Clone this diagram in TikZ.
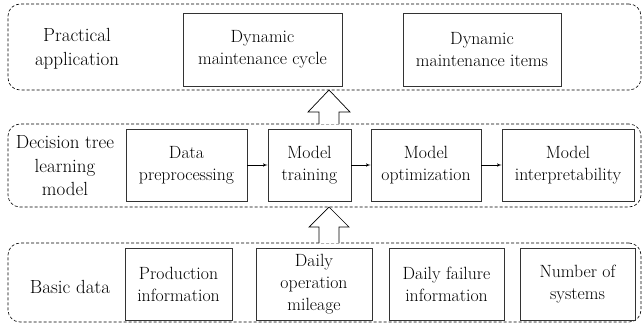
\documentclass[tikz,border=0pt]{standalone}
\usetikzlibrary{arrows, positioning}

\begin{document}
\begin{tikzpicture}[x=1pt, y=-1pt]

\tikzset{group/.style = {draw, densely dashed, rounded corners=12pt, line width=0.6pt, inner sep=0pt}}
\tikzset{box/.style = {draw=black!80, line width=0.8pt, align=center, inner sep=0pt, minimum height=72pt, font=\fontsize{17.7}{22}\selectfont}}
\tikzset{grouptext/.style = {align=center, font=\fontsize{19}{23.5}\selectfont}}
\tikzset{edge/.style = {->, > = latex', line width=0.6pt}}
\tikzset{bigarrow/.style = {draw, line width=0.7pt, fill=white, line join=miter}}

\useasboundingbox (0,0) rectangle (644,324);

% groups
\node[group, minimum width=633pt, minimum height=86pt] (app) at (324.5,47) {};
\node[group, minimum width=633pt, minimum height=83pt] (tree) at (324.5,165.5) {};
\node[group, minimum width=633pt, minimum height=79pt] (data) at (324.5,282.5) {};

% group labels
\node[grouptext] (appl) at (77,49) {Practical\\application};
\node[grouptext] (treel) at (65,166) {Decision tree\\learning\\model};
\node[grouptext] (datal) at (70,287) {Basic data};

% practical application
\node[box, minimum width=159pt, minimum height=73pt] (cycle) at (262.5,49.5) {Dynamic\\maintenance cycle};
\node[box, minimum width=158pt, minimum height=73pt] (items) at (482,49.5) {Dynamic\\maintenance items};

% decision tree learning model
\node[box, minimum width=121pt] (prep) at (186.5,165) {Data\\preprocessing};
\node[box, minimum width=83pt] (train) at (309.5,165) {Model\\training};
\node[box, minimum width=110pt] (optim) at (426,165) {Model\\optimization};
\node[box, minimum width=132pt] (interp) at (568,165) {Model\\interpretability};

% basic data
\node[box, minimum width=107pt] (prod) at (178.5,284) {Production\\information};
\node[box, minimum width=116pt] (mileage) at (314,284) {Daily\\operation\\mileage};
\node[box, minimum width=115pt] (failure) at (446.5,284) {Daily failure\\information};
\node[box, minimum width=115pt] (systems) at (577.5,284) {Number of\\systems};

%edges
\draw[edge] (prep) -- (train);
\draw[edge] (train) -- (optim);
\draw[edge] (optim) -- (interp);

% block arrows
\draw[bigarrow] (319,243) -- (319,227) -- (309,227) -- (329,207) -- (349,227) -- (339,227) -- (339,243);
\draw[bigarrow] (319,124) -- (319,112) -- (308,112) -- (329,90) -- (350,112) -- (339,112) -- (339,124);

\end{tikzpicture}
\end{document}
